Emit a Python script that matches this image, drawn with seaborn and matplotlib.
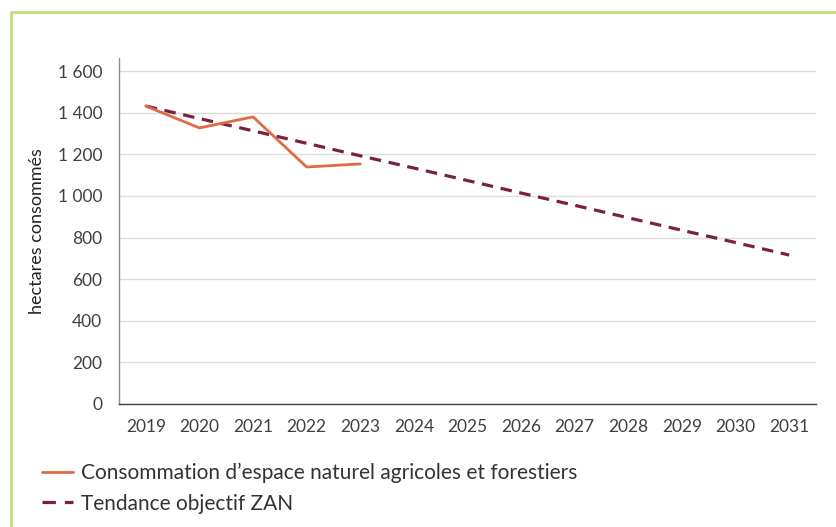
import matplotlib
matplotlib.use("Agg")
import matplotlib.pyplot as plt
import matplotlib.patches as mpatches
import seaborn as sns
import pandas as pd

years = ["2019", "2020", "2021", "2022", "2023", "2024", "2025",
         "2026", "2027", "2028", "2029", "2030", "2031"]
conso_years = ["2019", "2020", "2021", "2022", "2023"]
conso_values = [1432, 1327, 1380, 1139, 1154]
zan_values = [1432, 1372, 1313, 1253, 1193, 1134, 1074,
              1014, 955, 895, 835, 776, 716]
yticks = [0, 200, 400, 600, 800, 1000, 1200, 1400, 1600]
ytick_labels = ["0", "200", "400", "600", "800", "1 000", "1 200", "1 400", "1 600"]
label_conso = "Consommation d\u2019espace naturel agricoles et forestiers"
label_zan = "Tendance objectif ZAN"
ylabel = "hectares consommés"

sns.set_theme(style="white")
plt.rcParams['font.family'] = ['Lato', 'DejaVu Sans']
txt = "#404040"

fig = plt.figure(figsize=(8.36, 5.27), dpi=100)
ax = fig.add_axes([119/836, 1-404/527, (816-119)/836, (404-58)/527])

df_zan = pd.DataFrame({"year": years, "value": zan_values})
df_conso = pd.DataFrame({"year": conso_years, "value": conso_values})

sns.lineplot(data=df_zan, x="year", y="value", ax=ax, color="#7A2142",
             linewidth=2.3, legend=False, zorder=3)
line_zan = ax.lines[-1]
line_zan.set_dashes((3.6, 2.4))
sns.lineplot(data=df_conso, x="year", y="value", ax=ax, color="#E06A45",
             linewidth=2.0, legend=False, zorder=4)
line_conso = ax.lines[-1]

ax.set_xlim(-0.5, len(years) - 0.5)
ax.set_ylim(0, 1663)
ax.set_yticks(yticks)
ax.set_yticklabels(ytick_labels)
ax.grid(axis="y", color="#dcdcdc", linewidth=1.0)
ax.set_axisbelow(True)
for s in ["top", "right"]:
    ax.spines[s].set_visible(False)
ax.spines["left"].set_color("#8c8c8c")
ax.spines["bottom"].set_color("#404040")
ax.spines["left"].set_linewidth(1.0)
ax.spines["bottom"].set_linewidth(1.0)
ax.tick_params(axis="both", length=0, labelsize=12.5, colors=txt)
ax.tick_params(axis="y", pad=12)
ax.tick_params(axis="x", pad=11)
ax.set_xlabel("")
ax.set_ylabel(ylabel, fontsize=13, color="#222222", labelpad=9)

leg = fig.legend(handles=[line_conso, line_zan], labels=[label_conso, label_zan],
                 loc="upper left", bbox_to_anchor=(42/836, 1-463/527),
                 frameon=False, fontsize=15, handlelength=1.5,
                 handletextpad=0.35, labelspacing=0.5, labelcolor="#333333",
                 borderaxespad=0, borderpad=0)
leg.get_lines()[1].set_dashes((4.2, 2.8))

border = mpatches.Rectangle((11/836, -0.1), 1.2, 1 - 12/527 + 0.1,
                            transform=fig.transFigure, fill=False,
                            edgecolor="#C2DE79", linewidth=2.0)
fig.patches.append(border)

fig.savefig("out.png", dpi=100)
